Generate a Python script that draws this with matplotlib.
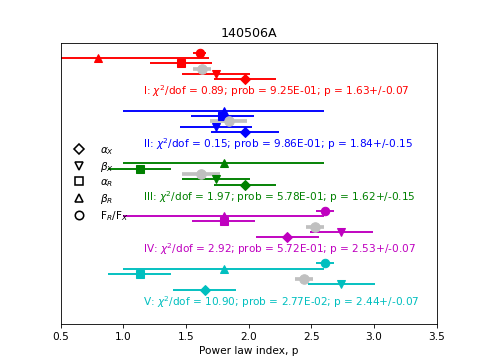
import numpy as np
import matplotlib
matplotlib.use("Agg")
from matplotlib import pyplot as plt
from matplotlib.lines import Line2D

# Segmentos del ajuste
groups = ["I", "II", "III", "IV", "V"]
colors = ["r", "b", "g", "m", "c"]
chi2_dof = [0.89, 0.15, 1.97, 2.92, 10.90]
prob = ["9.25E-01", "9.86E-01", "5.78E-01", "5.72E-01", "2.77E-02"]
p_fit = [1.63, 1.84, 1.62, 2.53, 2.44]
p_fit_err = [0.07, 0.15, 0.15, 0.07, 0.07]

# Índice p derivado de cada observable
fr_fx = [1.61, np.nan, np.nan, 2.61, 2.61]
fr_fx_err = [0.05, np.nan, np.nan, 0.07, 0.07]
beta_r = [0.80, 1.80, 1.80, 1.80, 1.80]
beta_r_err = [0.88, 0.80, 0.80, 0.80, 0.80]
alpha_r = [1.46, 1.79, 1.13, 1.80, 1.13]
alpha_r_err = [0.25, 0.25, 0.25, 0.25, 0.25]
beta_x = [1.74, 1.74, 1.74, 2.74, 2.74]
beta_x_err = [0.27, 0.29, 0.27, 0.25, 0.27]
alpha_x = [1.97, 1.97, 1.97, 2.31, 1.65]
alpha_x_err = [0.25, 0.27, 0.25, 0.25, 0.25]

fig, ax = plt.subplots(figsize=(6.4, 4.805), dpi=75.8)

ms = 8
lw = 1.8
for i, g in enumerate(groups):
    c = colors[i]
    y0 = i
    ax.errorbar(fr_fx[i], y0, xerr=fr_fx_err[i], fmt="o", color=c, ms=ms, lw=lw)
    ax.errorbar(beta_r[i], y0 + 0.1, xerr=beta_r_err[i], fmt="^", color=c, ms=ms, lw=lw)
    ax.errorbar(alpha_r[i], y0 + 0.2, xerr=alpha_r_err[i], fmt="s", color=c, ms=ms, lw=lw)
    ax.errorbar(p_fit[i], y0 + 0.3, xerr=p_fit_err[i], fmt="o", color="silver", ms=ms + 1, lw=3.5)
    ax.errorbar(beta_x[i], y0 + 0.4, xerr=beta_x_err[i], fmt="v", color=c, ms=ms, lw=lw)
    ax.errorbar(alpha_x[i], y0 + 0.5, xerr=alpha_x_err[i], fmt="D", color=c, ms=ms - 1, lw=lw)
    label = "%s: $\\chi^2$/dof = %.2f; prob = %s; p = %.2f+/-%.2f" % (
        g, chi2_dof[i], prob[i], p_fit[i], p_fit_err[i])
    ax.text(1.155, y0 + 0.73, label, color=c, fontsize=10, va="center", ha="left")

handles = [
    Line2D([], [], ls="none", marker="D", mfc="white", mec="k", ms=ms - 1, mew=1.5),
    Line2D([], [], ls="none", marker="v", mfc="white", mec="k", ms=ms, mew=1.5),
    Line2D([], [], ls="none", marker="s", mfc="white", mec="k", ms=ms, mew=1.5),
    Line2D([], [], ls="none", marker="^", mfc="white", mec="k", ms=ms, mew=1.5),
    Line2D([], [], ls="none", marker="o", mfc="white", mec="k", ms=ms, mew=1.5),
]
labels = [r"$\alpha_X$", r"$\beta_X$", r"$\alpha_R$", r"$\beta_R$", r"F$_R$/F$_X$"]
ax.legend(handles, labels, loc="center left", frameon=False, numpoints=1,
          labelspacing=0.28, borderaxespad=0.3, handletextpad=1.0)

ax.set_xlim(0.5, 3.5)
ax.set_ylim(5.15, -0.18)
ax.set_yticks([])
ax.set_xlabel("Power law index, p")
ax.set_title("140506A")

plt.savefig("out.png")
